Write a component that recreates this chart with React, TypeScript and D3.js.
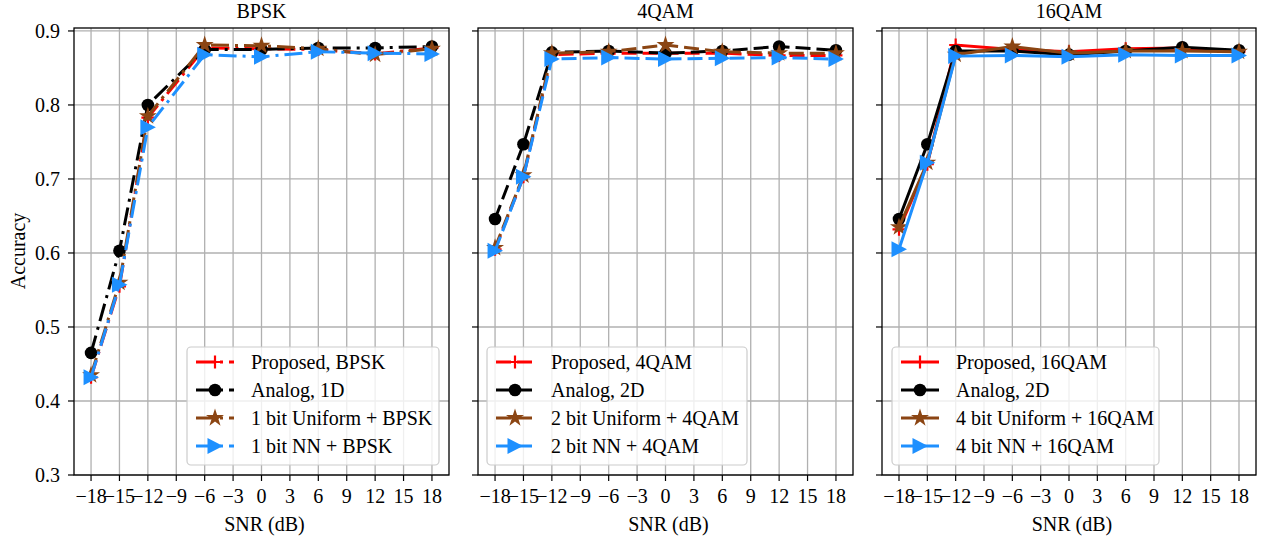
import React from "react";
import * as d3 from "d3";

const snr = [-18, -15, -12, -6, 0, 6, 12, 18];
const xTicks = [-18, -15, -12, -9, -6, -3, 0, 3, 6, 9, 12, 15, 18];
const yTicks = [0.3, 0.4, 0.5, 0.6, 0.7, 0.8, 0.9];
const titles = ["BPSK", "4QAM", "16QAM"];

const proposedBPSK = [0.432, 0.555, 0.783, 0.877, 0.876, 0.875, 0.869, 0.877];
const analog1D = [0.465, 0.603, 0.8, 0.875, 0.875, 0.877, 0.877, 0.879];
const uniformBPSK = [0.435, 0.56, 0.785, 0.881, 0.88, 0.876, 0.868, 0.876];
const nnBPSK = [0.432, 0.557, 0.77, 0.868, 0.865, 0.872, 0.87, 0.869];

const proposed4QAM = [0.605, 0.703, 0.868, 0.87, 0.87, 0.87, 0.867, 0.867];
const analog2D4QAM = [0.646, 0.747, 0.871, 0.873, 0.87, 0.873, 0.879, 0.874];
const uniform4QAM = [0.607, 0.705, 0.87, 0.872, 0.881, 0.872, 0.87, 0.87];
const nn4QAM = [0.603, 0.703, 0.862, 0.864, 0.862, 0.863, 0.864, 0.862];

const proposed16QAM = [0.632, 0.72, 0.881, 0.875, 0.872, 0.876, 0.877, 0.872];
const analog2D16QAM = [0.646, 0.747, 0.873, 0.873, 0.868, 0.873, 0.878, 0.874];
const uniform16QAM = [0.635, 0.722, 0.868, 0.879, 0.87, 0.873, 0.873, 0.872];
const nn16QAM = [0.605, 0.722, 0.866, 0.867, 0.865, 0.868, 0.867, 0.867];

const labelsBPSK = ["Proposed, BPSK", "Analog, 1D", "1 bit Uniform + BPSK", "1 bit NN + BPSK"];
const labels4QAM = ["Proposed, 4QAM", "Analog, 2D", "2 bit Uniform + 4QAM", "2 bit NN + 4QAM"];
const labels16QAM = ["Proposed, 16QAM", "Analog, 2D", "4 bit Uniform + 16QAM", "4 bit NN + 16QAM"];

const colors = ["#ff0000", "#000000", "#8b4513", "#1e90ff"];
const markers = ["plus", "circle", "star", "triR"];

const FONT = "'Liberation Serif', 'Times New Roman', serif";
const FS = 20;

const panels = [
  { x0: 74, x1: 449, series: [proposedBPSK, analog1D, uniformBPSK, nnBPSK], labels: labelsBPSK, dash: "18,6,3,6", legend: { x: 187, w: 252 } },
  { x0: 478, x1: 853, series: [proposed4QAM, analog2D4QAM, uniform4QAM, nn4QAM], labels: labels4QAM, dash: "15,6", legend: { x: 487, w: 260 } },
  { x0: 882, x1: 1256, series: [proposed16QAM, analog2D16QAM, uniform16QAM, nn16QAM], labels: labels16QAM, dash: "none", legend: { x: 892, w: 267 } },
];

const TOP = 28;
const BOTTOM = 475;

function Marker({ kind, x, y, color }: { kind: string; x: number; y: number; color: string }) {
  if (kind === "plus") {
    return <path d={`M${x - 6.5},${y}H${x + 6.5}M${x},${y - 6.5}V${y + 6.5}`} stroke={color} strokeWidth={2.2} fill="none" />;
  }
  if (kind === "circle") {
    return <circle cx={x} cy={y} r={6.3} fill={color} />;
  }
  if (kind === "star") {
    const p = d3.symbol().type(d3.symbolStar).size(100)();
    return <path d={p || ""} transform={`translate(${x},${y})`} fill={color} />;
  }
  return <path d={`M${x + 8},${y}L${x - 7.5},${y - 8}L${x - 7.5},${y + 8}Z`} fill={color} />;
}

function Panel({ idx }: { idx: number }) {
  const p = panels[idx];
  const xs = d3.scaleLinear().domain([-19.8, 19.8]).range([p.x0, p.x1]);
  const ys = d3.scaleLinear().domain([0.3, 0.904]).range([BOTTOM, TOP]);
  const line = d3
    .line<number>()
    .x((_, i) => xs(snr[i]))
    .y((d) => ys(d));
  const lg = p.legend;
  const rowY = [362, 390, 418, 446];
  return (
    <g>
      <defs>
        <clipPath id={`clip${idx}`}>
          <rect x={p.x0} y={TOP} width={p.x1 - p.x0} height={BOTTOM - TOP} />
        </clipPath>
      </defs>
      {xTicks.map((t) => (
        <line key={"gx" + t} x1={xs(t)} x2={xs(t)} y1={TOP} y2={BOTTOM} stroke="#b0b0b0" strokeWidth={1.3} />
      ))}
      {yTicks.map((t) => (
        <line key={"gy" + t} x1={p.x0} x2={p.x1} y1={ys(t)} y2={ys(t)} stroke="#b0b0b0" strokeWidth={1.3} />
      ))}
      <g clipPath={`url(#clip${idx})`}>
        {p.series.map((s, si) => (
          <g key={"s" + si}>
            <path d={line(s) || ""} fill="none" stroke={colors[si]} strokeWidth={3} strokeDasharray={p.dash} />
            {s.map((v, i) => (
              <Marker key={i} kind={markers[si]} x={xs(snr[i])} y={ys(v)} color={colors[si]} />
            ))}
          </g>
        ))}
      </g>
      <rect x={p.x0} y={TOP} width={p.x1 - p.x0} height={BOTTOM - TOP} fill="none" stroke="#000" strokeWidth={1.3} />
      {xTicks.map((t) => (
        <g key={"tx" + t}>
          <line x1={xs(t)} x2={xs(t)} y1={BOTTOM} y2={BOTTOM + 6} stroke="#000" strokeWidth={1.2} />
          <text x={xs(t)} y={503} textAnchor="middle" fontFamily={FONT} fontSize={FS}>
            {t < 0 ? "\u2212" + Math.abs(t) : String(t)}
          </text>
        </g>
      ))}
      {yTicks.map((t) => (
        <g key={"ty" + t}>
          <line x1={p.x0 - 6} x2={p.x0} y1={ys(t)} y2={ys(t)} stroke="#000" strokeWidth={1.2} />
          {idx === 0 && (
            <text x={p.x0 - 14} y={ys(t) + 7} textAnchor="end" fontFamily={FONT} fontSize={FS}>
              {t.toFixed(1)}
            </text>
          )}
        </g>
      ))}
      <text x={(p.x0 + p.x1) / 2} y={18} textAnchor="middle" fontFamily={FONT} fontSize={FS}>
        {titles[idx]}
      </text>
      <text x={(p.x0 + p.x1) / 2 + 3} y={531} textAnchor="middle" fontFamily={FONT} fontSize={FS}>
        SNR (dB)
      </text>
      <rect x={lg.x} y={347} width={lg.w} height={118} rx={4} fill="#fff" fillOpacity={0.8} stroke="#cccccc" strokeWidth={1.2} />
      {p.labels.map((lab, i) => {
        const hx0 = lg.x + 9;
        const hx1 = lg.x + 47;
        return (
          <g key={"l" + i}>
            <line x1={hx0} x2={hx1} y1={rowY[i]} y2={rowY[i]} stroke={colors[i]} strokeWidth={3} strokeDasharray={p.dash} />
            <Marker kind={markers[i]} x={(hx0 + hx1) / 2} y={rowY[i]} color={colors[i]} />
            <text x={lg.x + 64} y={rowY[i] + 7} fontFamily={FONT} fontSize={FS}>
              {lab}
            </text>
          </g>
        );
      })}
    </g>
  );
}

export default function App() {
  return (
    <svg width={1267} height={538} style={{ position: "absolute", left: 0, top: 0, background: "#fff" }}>
      <rect x={0} y={0} width={1267} height={538} fill="#fff" />
      {panels.map((_, i) => (
        <Panel key={i} idx={i} />
      ))}
      <text transform="translate(25,251) rotate(-90)" textAnchor="middle" fontFamily={FONT} fontSize={FS}>
        Accuracy
      </text>
    </svg>
  );
}
